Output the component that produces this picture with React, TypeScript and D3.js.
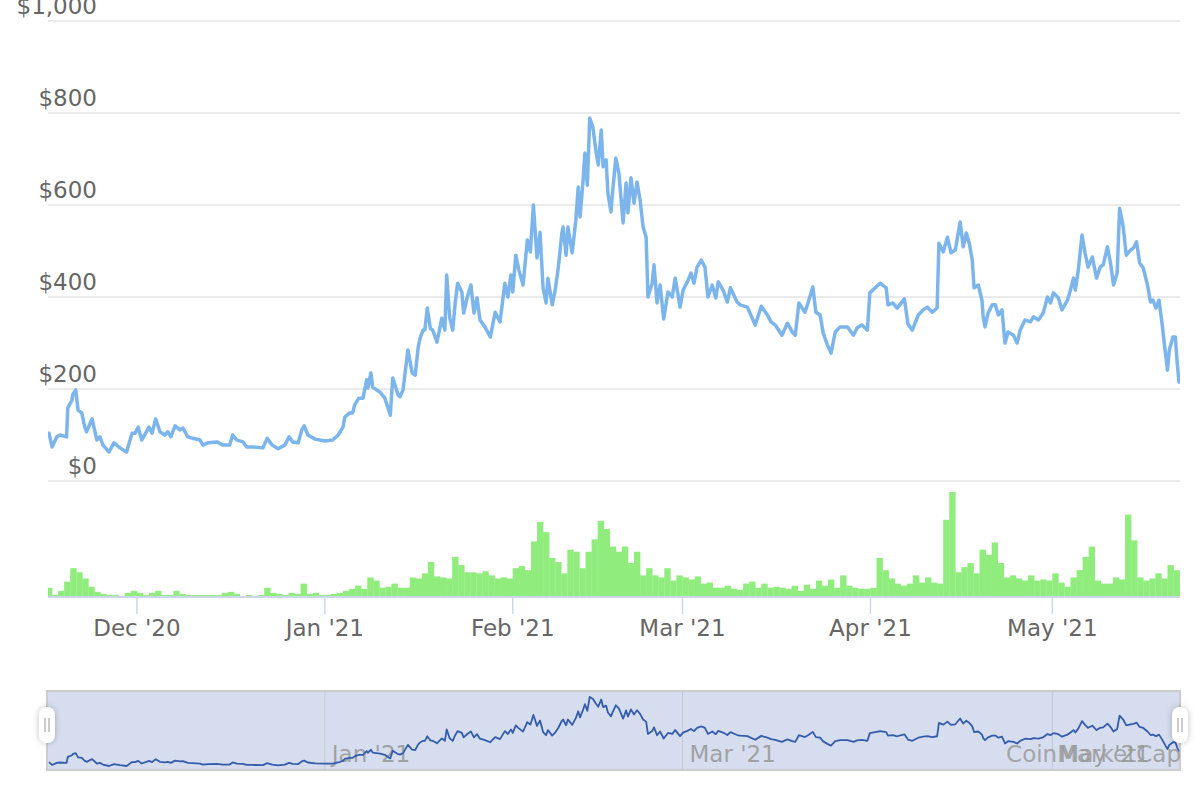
import * as d3 from "d3";

// time is kept as days since 16 Nov 2020
const START = new Date(2020, 10, 16);
const DAY = 864e5;

const pricePoints: [number, number][] = [
  [0.5, 104], [1.0, 74], [1.8, 96], [2.3, 100], [3.4, 96], [3.6, 159], [4.3, 176], [4.4, 187], [4.9, 198],
  [5.3, 154], [5.9, 148], [6.4, 117], [6.7, 107], [7.6, 135], [8.4, 89], [8.9, 96], [9.4, 78], [10.4, 63],
  [11.2, 83], [12.2, 72], [13.3, 63], [14.2, 104], [14.7, 104], [15.2, 117], [15.8, 89], [17.0, 117],
  [17.5, 104], [18.1, 135], [18.8, 107], [19.6, 100], [20.1, 107], [20.6, 96], [21.3, 120], [22.1, 111],
  [22.6, 115], [23.4, 96], [24.2, 93], [25.4, 89], [25.9, 78], [26.7, 83], [28.2, 85], [29.2, 78], [30.3, 78],
  [30.8, 100], [31.5, 89], [32.5, 85], [33.1, 74], [34.1, 74], [35.8, 72], [36.5, 93], [37.3, 78], [38.3, 70],
  [39.4, 78], [40.1, 96], [40.7, 85], [41.6, 83], [42.2, 111], [42.6, 120], [43.2, 100], [44.4, 91], [46.0, 87],
  [47.3, 89], [48.2, 100], [49.0, 117], [49.3, 139], [50.1, 148], [50.6, 148], [50.9, 165], [51.6, 180],
  [52.3, 180], [52.9, 220], [53.1, 202], [53.6, 235], [53.9, 204], [55.1, 193], [55.9, 180], [56.8, 143],
  [57.2, 224], [58.1, 187], [58.4, 183], [58.9, 198], [59.7, 285], [60.4, 235], [60.9, 230], [61.4, 291],
  [61.7, 310], [62.2, 328], [62.5, 328], [62.9, 376], [63.4, 332], [63.8, 328], [64.5, 302], [65.3, 354],
  [65.8, 328], [66.1, 448], [66.6, 354], [67.1, 328], [67.5, 387], [67.9, 430], [68.6, 411], [68.9, 365],
  [69.5, 400], [70.1, 426], [70.6, 365], [71.1, 398], [71.6, 350], [72.4, 335], [73.3, 313], [74.1, 367],
  [74.9, 346], [75.7, 430], [76.2, 400], [76.7, 448], [77.0, 411], [77.5, 491], [78.0, 459], [78.7, 426],
  [79.4, 524], [79.9, 498], [80.4, 600], [81.0, 485], [81.5, 541], [82.0, 420], [82.5, 387], [82.8, 441],
  [83.5, 383], [84.0, 415], [84.5, 463], [85.1, 539], [85.3, 552], [85.8, 491], [86.1, 552], [86.8, 496],
  [87.4, 567], [87.8, 639], [88.1, 574], [88.6, 654], [88.9, 713], [89.3, 643], [89.7, 789], [90.2, 770],
  [90.7, 720], [91.1, 687], [91.6, 763], [91.9, 683], [92.4, 698], [92.7, 626], [93.2, 585], [93.5, 633],
  [94.0, 702], [94.5, 670], [95.2, 561], [95.7, 648], [96.0, 583], [96.5, 659], [97.0, 604], [97.5, 650],
  [98.0, 611], [98.5, 552], [99.0, 530], [99.3, 400], [100.0, 430], [100.3, 470], [100.8, 387], [101.3, 426],
  [101.9, 352], [102.6, 411], [103.3, 400], [103.8, 441], [104.6, 378], [105.1, 415], [105.8, 433], [106.4, 452],
  [106.9, 430], [107.4, 465], [108.1, 480], [108.7, 465], [109.2, 400], [109.9, 426], [110.5, 398], [110.9, 433],
  [111.7, 415], [112.4, 389], [112.9, 420], [114.0, 389], [114.5, 383], [115.7, 378], [117.0, 339], [118.0, 380],
  [119.0, 361], [119.6, 346], [120.3, 339], [121.4, 317], [122.3, 343], [123.1, 324], [123.6, 317], [124.2, 387],
  [125.2, 367], [125.7, 387], [126.5, 422], [127.0, 367], [127.7, 361], [128.2, 322], [128.9, 296], [129.5, 278],
  [130.2, 324], [131.0, 335], [132.2, 335], [133.2, 317], [133.8, 333], [134.6, 339], [135.5, 328], [135.9, 409],
  [136.8, 420], [137.6, 430], [138.6, 420], [138.9, 383], [139.7, 387], [140.4, 376], [141.6, 396], [142.2, 341],
  [142.9, 328], [143.9, 361], [144.7, 372], [145.4, 378], [146.2, 367], [147.0, 376], [147.3, 517], [148.0, 498],
  [148.7, 530], [149.3, 496], [150.0, 502], [150.8, 563], [151.3, 509], [151.8, 539], [152.3, 517], [152.8, 480],
  [153.1, 420], [153.8, 426], [154.4, 393], [154.6, 357], [154.9, 335], [155.4, 365], [156.1, 383], [156.6, 383],
  [157.1, 361], [157.7, 372], [158.2, 300], [158.7, 324], [159.6, 317], [160.2, 300], [160.7, 328], [161.5, 350],
  [162.4, 346], [162.9, 357], [163.7, 350], [164.5, 365], [165.2, 400], [165.7, 387], [166.2, 409], [167.0, 398],
  [167.6, 372], [168.5, 393], [169.0, 415], [169.5, 441], [169.8, 415], [170.3, 459], [170.9, 535], [171.4, 496],
  [171.9, 465], [172.6, 487], [173.3, 441], [173.9, 465], [174.4, 470], [175.1, 509], [175.6, 474], [176.1, 426],
  [176.7, 452], [177.1, 593], [177.7, 552], [178.2, 491], [178.9, 502], [179.4, 507], [179.9, 520], [180.4, 474],
  [181.0, 463], [181.7, 426], [182.2, 389], [182.6, 393], [183.1, 376], [183.6, 393], [184.1, 343], [184.6, 285],
  [185.0, 241], [185.3, 285], [185.9, 313], [186.3, 313], [186.6, 257], [186.9, 215],
];

// daily volume, one value per day from 16 Nov 2020 ($M, estimated)
const volumes = [
  9, 2, 6, 15, 28, 24, 18, 10, 5, 3, 2, 2, 1, 4, 6, 4, 2, 4, 6, 2,
  2, 6, 3, 2, 2, 2, 2, 2, 2, 4, 5, 3, 1, 2, 1, 2, 9, 4, 3, 2,
  4, 3, 13, 3, 4, 2, 2, 3, 4, 6, 8, 11, 8, 19, 16, 9, 10, 13, 9, 9,
  19, 18, 23, 34, 20, 19, 18, 39, 31, 24, 24, 23, 25, 21, 18, 19, 18, 28, 30, 26,
  54, 73, 63, 38, 34, 23, 46, 44, 28, 44, 56, 74, 66, 49, 44, 49, 33, 44, 21, 28,
  21, 19, 28, 16, 21, 19, 17, 20, 13, 14, 9, 9, 11, 8, 7, 13, 15, 9, 13, 9,
  10, 9, 8, 11, 6, 12, 8, 16, 11, 17, 9, 21, 11, 9, 8, 8, 9, 38, 26, 18,
  13, 11, 13, 21, 14, 19, 14, 13, 75, 102, 24, 29, 33, 23, 46, 41, 53, 33, 19, 21,
  18, 16, 21, 16, 17, 16, 23, 14, 10, 19, 26, 39, 49, 16, 13, 13, 19, 17, 80, 55,
  19, 16, 18, 23, 18, 31, 26, 19,
];

const priceTicks = [0, 200, 400, 600, 800, 1000];

const FONT = "'DejaVu Sans', Verdana, sans-serif";
const L = 48, R = 1180;

const toDate = (d: number) => new Date(START.getTime() + d * DAY);

export default function App() {
  const data = pricePoints.map(([d, p]) => ({ t: toDate(d), p }));
  const x = d3.scaleTime([data[0].t, data[data.length - 1].t], [49, 1179]);
  const y = d3.scaleLinear([0, 1000], [481, 21]);
  const yv = d3.scaleLinear([0, d3.max(volumes)!], [597, 492]);
  const yn = d3.scaleLinear(d3.extent(data, (d) => d.p) as [number, number], [766, 697]);

  const line = d3.line<{ t: Date; p: number }>().x((d) => x(d.t)).y((d) => y(d.p));
  const navLine = d3.line<{ t: Date; p: number }>().x((d) => x(d.t)).y((d) => yn(d.p));

  const months = d3.timeMonth.range(toDate(1), toDate(187));
  const fmt = d3.timeFormat("%b '%y");
  const money = (v: number) => "$" + d3.format(",")(v);

  const bars = volumes.map((v, i) => {
    const x0 = Math.max(L, x(toDate(i)));
    const x1 = Math.min(R, x(toDate(i + 1)));
    return { x0, w: Math.max(0, x1 - x0), v };
  });

  const handle = (cx: number) => (
    <g key={cx}>
      <rect x={cx - 8} y={707} width={16} height={36} rx={8} fill="#ffffff" filter="url(#hshadow)" />
      <line x1={cx - 2} x2={cx - 2} y1={718} y2={732} stroke="#999" strokeWidth={1} />
      <line x1={cx + 2} x2={cx + 2} y1={718} y2={732} stroke="#999" strokeWidth={1} />
    </g>
  );

  return (
    <svg width={1200} height={800} style={{ position: "absolute", left: 0, top: 0, background: "#fff" }} fontFamily={FONT}>
      <defs>
        <clipPath id="plot">
          <rect x={L} y={0} width={R - L} height={600} />
        </clipPath>
        <filter id="hshadow" x="-100%" y="-50%" width="300%" height="200%">
          <feDropShadow dx={0} dy={0} stdDeviation={3} floodColor="#000" floodOpacity={0.25} />
        </filter>
      </defs>

      {/* price grid + labels */}
      {priceTicks.map((t) => (
        <g key={t}>
          <line x1={L} x2={R} y1={y(t)} y2={y(t)} stroke="#e3e3e3" strokeWidth={1.3} />
          <text x={97} y={y(t) - 7} textAnchor="end" fontSize={23} fill="#666">{money(t)}</text>
        </g>
      ))}

      {/* volume */}
      <g clipPath="url(#plot)">
        {bars.map((b, i) => (
          <rect key={i} x={b.x0} y={yv(b.v)} width={b.w + 0.3} height={597 - yv(b.v)} fill="#90ed7d" />
        ))}
      </g>
      <line x1={L} x2={R} y1={597} y2={597} stroke="#ccd6eb" strokeWidth={2} />
      {months.map((m) => (
        <g key={+m}>
          <line x1={x(m)} x2={x(m)} y1={598} y2={614} stroke="#ccd6eb" strokeWidth={1.5} />
          <text x={x(m)} y={636} textAnchor="middle" fontSize={23} fill="#666">{fmt(m)}</text>
        </g>
      ))}

      {/* price line */}
      <path d={line(data)!} fill="none" stroke="#7cb5ec" strokeWidth={3.5} strokeLinejoin="round" strokeLinecap="round" clipPath="url(#plot)" />

      {/* navigator */}
      <rect x={L - 1} y={691} width={R - L + 1} height={79} fill="#d6ddee" stroke="#cccccc" strokeWidth={2} />
      {months.filter((m) => m.getMonth() % 2 === 0).map((m) => (
        <g key={+m}>
          <line x1={x(m)} x2={x(m)} y1={692} y2={769} stroke="#c4c9d6" strokeWidth={1} />
          <text x={x(m) + 7} y={762} fontSize={23} fill="#999" fillOpacity={0.9}>{fmt(m)}</text>
        </g>
      ))}
      <path d={navLine(data)!} fill="none" stroke="#335cad" strokeWidth={1.8} strokeLinejoin="round" />
      <text x={R + 1} y={762} textAnchor="end" fontSize={23} fill="#999" fillOpacity={0.85}>CoinMarketCap</text>
      {handle(L - 1)}
      {handle(R)}
    </svg>
  );
}
